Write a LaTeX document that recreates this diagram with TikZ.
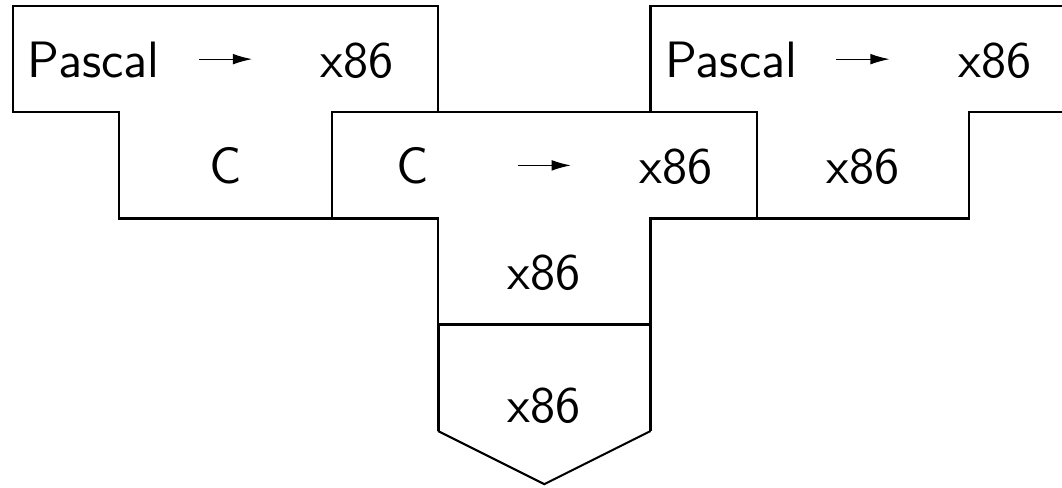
\documentclass[tikz,border=0pt]{standalone}
\usetikzlibrary{arrows.meta}
\begin{document}
\begin{tikzpicture}[x=1cm,y=1cm,
  outline/.style={line width=0.55pt, line join=miter},
  machine/.style={line width=0.8pt, line join=miter},
  lbl/.style={font=\sffamily\fontsize{13.7}{16}\selectfont, inner sep=0pt, anchor=base},
  tarrow/.style={line width=0.3pt, -{Latex[length=1.8mm,width=1.0mm]}}]
\useasboundingbox (-0.1224,0.0565) rectangle (9.873,-4.527);
\clip (-0.1224,0.0565) rectangle (9.873,-4.527);
% T shapes
\draw[outline] (0,0) -- (4,0) -- (4,-1) -- (3,-1) -- (3,-2) -- (1,-2) -- (1,-1) -- (0,-1) -- cycle;
\draw[outline] (3,-1) -- (7,-1) -- (7,-2) -- (6,-2) -- (6,-3) -- (4,-3) -- (4,-2) -- (3,-2) -- cycle;
\draw[outline] (6,0) -- (10,0) -- (10,-1) -- (9,-1) -- (9,-2) -- (7,-2) -- (7,-1) -- (6,-1) -- cycle;
% machine
\draw[machine] (4,-4) -- (4,-3) -- (6,-3) -- (6,-4);
\draw[outline] (4,-4) -- (5,-4.5) -- (6,-4);
% left T labels
\node[lbl] (p1) at (0.76,-0.67) {Pascal};
\node[lbl] (t1) at (3.24,-0.67) {x86};
\node[lbl] (i1) at (2,-1.67) {C};
\coordinate (a1s) at (1.75,-0.5);
\coordinate (a1e) at (2.25,-0.5);
\draw[tarrow] (a1s) -- (a1e);
% middle T labels
\node[lbl] (p2) at (3.76,-1.67) {C};
\node[lbl] (t2) at (6.24,-1.67) {x86};
\node[lbl] (i2) at (5,-2.67) {x86};
\coordinate (a2s) at (4.75,-1.5);
\coordinate (a2e) at (5.25,-1.5);
\draw[tarrow] (a2s) -- (a2e);
% right T labels
\node[lbl] (p3) at (6.76,-0.67) {Pascal};
\node[lbl] (t3) at (9.24,-0.67) {x86};
\node[lbl] (i3) at (8,-1.67) {x86};
\coordinate (a3s) at (7.75,-0.5);
\coordinate (a3e) at (8.25,-0.5);
\draw[tarrow] (a3s) -- (a3e);
% machine label
\node[lbl] (m) at (5,-3.92) {x86};
\end{tikzpicture}
\end{document}
